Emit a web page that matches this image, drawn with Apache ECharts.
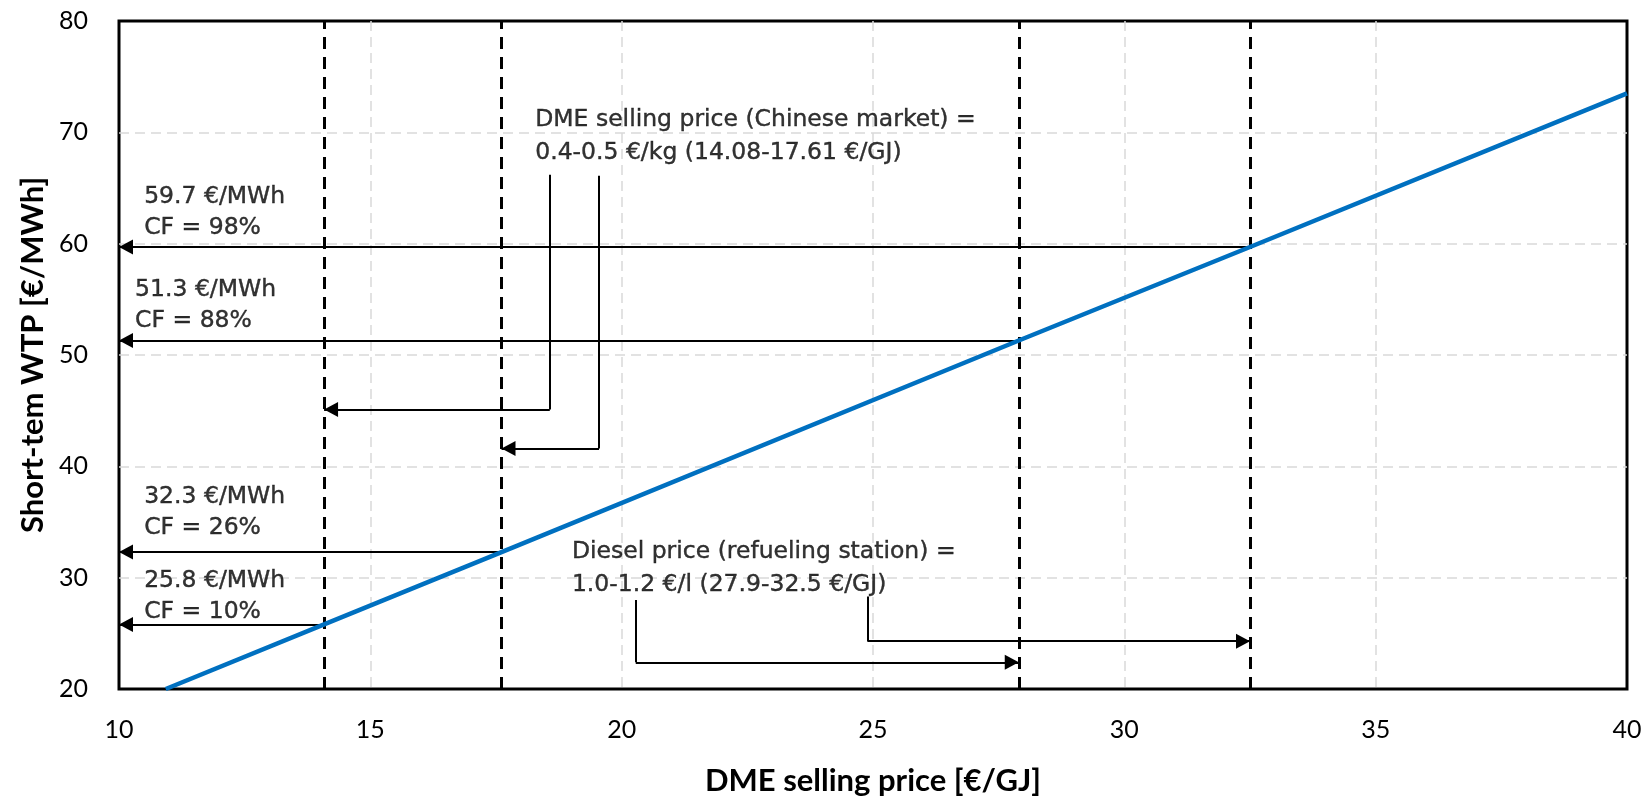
<!DOCTYPE html>
<html>
<head>
<meta charset="utf-8">
<script src="https://cdn.jsdelivr.net/npm/echarts@6/dist/echarts.min.js"></script>
<style>
  html, body { margin: 0; padding: 0; background: #ffffff; }
  #chart { width: 1651px; height: 797px; }
</style>
</head>
<body>
<div id="chart"></div>
<script>
// Short-term WTP as a function of the DME selling price
const wtpPrice = [10.93, 14.08, 17.61, 27.9, 32.5, 40];
const wtpValue = [20, 25.8, 32.3, 51.3, 59.7, 73.5];

// Reference prices (vertical markers) and the WTP / capacity factor at each
const refPrice = [14.08, 17.61, 27.9, 32.5];
const refWtp = [25.8, 32.3, 51.3, 59.7];
const refCF = [10, 26, 88, 98];

// Anchor (price, wtp) of each WTP / CF note
const noteX = [10.5, 10.5, 10.32, 10.5];
const noteY = [28.3, 35.9, 54.5, 62.8];

// Callout texts and their anchors
const calloutText = [
  'DME selling price (Chinese market) =\n0.4-0.5 €/kg (14.08-17.61 €/GJ)',
  'Diesel price (refueling station) =\n1.0-1.2 €/l (27.9-32.5 €/GJ)'
];
const calloutX = [18.28, 19.01];
const calloutY = [69.6, 30.8];

// Elbow leaders from the callouts down to the reference price lines
const leaderX = [18.57, 19.55, 20.28, 24.89];
const leaderTop = [66.2, 66.1, 28.0, 28.3];
const leaderBend = [45.1, 41.6, 22.4, 24.3];
const leaderTarget = [14.08, 17.61, 27.9, 32.5];

const AX_MIN_X = 10, AX_MAX_X = 40, AX_MIN_Y = 20, AX_MAX_Y = 80;

const noteFont = 'DejaVu Sans';
const tickFont = 'Lato';

// Arrow head whose tip sits at the symbol centre (upper half of the box is empty)
const ARROW_HEAD = 'path://M5,0M5,10L10,20L0,20Z';

const arrowStyle = { color: '#000', width: 2, type: 'solid' };

// horizontal read-off arrows towards the y axis
const readOffArrows = refPrice.map((p, i) => [
  { coord: [p, refWtp[i]] },
  { coord: [AX_MIN_X, refWtp[i]] }
]);
// horizontal legs of the callout leaders
const leaderArrows = leaderX.map((x, i) => [
  { coord: [x, leaderBend[i]] },
  { coord: [leaderTarget[i], leaderBend[i]] }
]);

const gridLine = {
  show: true, showMinLine: false, showMaxLine: false,
  lineStyle: { color: '#d9d9d9', width: 1.5, type: [10, 6] }
};

const noteLabel = {
  show: true, position: 'right', distance: 0, align: 'left', verticalAlign: 'middle',
  fontFamily: noteFont, fontSize: 23.5, color: '#000',
  textBorderColor: '#000', textBorderWidth: 0.4
};

const chart = echarts.init(document.getElementById('chart'), null, { renderer: 'canvas' });

chart.setOption({
  animation: false,
  backgroundColor: '#ffffff',
  grid: {
    left: 119, right: 24, top: 21, bottom: 108,
    outerBoundsMode: 'none', containLabel: false,
    show: true, borderColor: '#000', borderWidth: 3, backgroundColor: 'transparent'
  },
  xAxis: {
    type: 'value', min: AX_MIN_X, max: AX_MAX_X, interval: 5,
    name: 'DME selling price [€/GJ]', nameLocation: 'middle', nameGap: 76,
    nameTextStyle: { fontFamily: tickFont, fontWeight: 'bold', fontSize: 31, color: '#000' },
    axisLine: { show: false }, axisTick: { show: false },
    axisLabel: { fontFamily: tickFont, fontSize: 25, color: '#000', margin: 28 },
    splitLine: gridLine
  },
  yAxis: {
    type: 'value', min: AX_MIN_Y, max: AX_MAX_Y, interval: 10,
    name: 'Short-tem WTP [€/MWh]', nameLocation: 'middle', nameGap: 68,
    nameTextStyle: { fontFamily: tickFont, fontWeight: 'bold', fontSize: 31, color: '#000' },
    axisLine: { show: false }, axisTick: { show: false },
    axisLabel: { fontFamily: tickFont, fontSize: 25, color: '#000', margin: 31 },
    splitLine: gridLine
  },
  series: [
    {
      // dashed vertical markers at the reference prices
      type: 'lines', coordinateSystem: 'cartesian2d', silent: true, z: 3,
      lineStyle: { color: '#000', width: 3, type: [12, 8], opacity: 1 },
      data: refPrice.map(p => ({ coords: [[p, AX_MIN_Y], [p, AX_MAX_Y]] }))
    },
    {
      // vertical legs of the callout leaders
      type: 'lines', coordinateSystem: 'cartesian2d', silent: true, z: 4,
      lineStyle: { color: '#000', width: 2, type: 'solid', opacity: 1 },
      data: leaderX.map((x, i) => ({ coords: [[x, leaderTop[i]], [x, leaderBend[i]]] }))
    },
    {
      // arrows (read-off and leaders)
      type: 'line', data: [], silent: true, z: 4,
      markLine: {
        silent: true, animation: false,
        symbol: ['none', ARROW_HEAD], symbolSize: [15, 28],
        label: { show: false }, emphasis: { disabled: true },
        lineStyle: arrowStyle,
        data: readOffArrows.concat(leaderArrows)
      }
    },
    {
      name: 'Short-term WTP',
      type: 'line', z: 6,
      data: wtpPrice.map((p, i) => [p, wtpValue[i]]),
      showSymbol: false, symbol: 'none',
      lineStyle: { color: '#0070c0', width: 4.5 },
      silent: true
    },
    {
      // WTP / capacity factor notes
      type: 'scatter', z: 7, silent: true, symbolSize: 0,
      data: noteX.map((x, i) => ({
        value: [x, noteY[i]],
        label: { formatter: refWtp[i].toFixed(1) + ' €/MWh\nCF = ' + refCF[i] + '%' }
      })),
      label: Object.assign({}, noteLabel, { lineHeight: 31 })
    },
    {
      // callout texts
      type: 'scatter', z: 7, silent: true, symbolSize: 0,
      data: calloutX.map((x, i) => ({ value: [x, calloutY[i]], label: { formatter: calloutText[i] } })),
      label: Object.assign({}, noteLabel, { lineHeight: 33 })
    }
  ]
});
</script>
</body>
</html>
